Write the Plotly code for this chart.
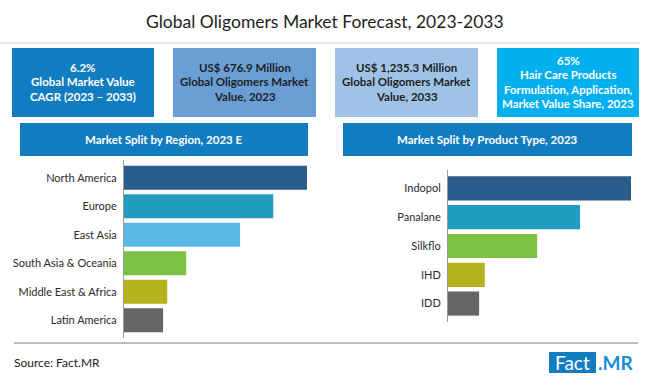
import plotly.graph_objects as go

W, H = 650, 377

title = "Global Oligomers Market Forecast, 2023-2033"

kpi_lines = [
    ["6.2%", "Global Market Value", "CAGR (2023 – 2033)"],
    ["US$ 676.9 Million", "Global Oligomers Market", "Value, 2023"],
    ["US$ 1,235.3 Million", "Global Oligomers Market", "Value, 2033"],
    ["65%", "Hair Care Products", "Formulation, Application,", "Market Value Share, 2023"],
]
kpi_fill = ["#117cbf", "#6a9fd5", "#9fc3e6", "#03b0ef"]
kpi_font = ["#ffffff", "#1e1e1e", "#1e1e1e", "#ffffff"]
kpi_size = [11.5, 11.5, 11.5, 11.5]

region_title = "Market Split by Region, 2023 E"
regions = ["North America", "Europe", "East Asia", "South Asia & Oceania",
           "Middle East & Africa", "Latin America"]
region_values = [30.9, 25.2, 19.6, 10.5, 7.3, 6.6]

product_title = "Market Split by Product Type, 2023"
products = ["Indopol", "Panalane", "Silkflo", "IHD", "IDD"]
product_values = [38.8, 28.0, 18.9, 7.8, 6.6]

region_colors = ["#2a5d8c", "#229dc0", "#5ab9e5", "#7cc142", "#b4b21e", "#666666"]
product_colors = ["#2a5d8c", "#229dc0", "#7cc142", "#b4b21e", "#666666"]

source = "Source: Fact.MR"

FONT = "Lato"

def px_x(x):
    return x / W

def px_y(y):
    return 1 - y / H

fig = go.Figure()

fig.add_trace(go.Bar(
    x=region_values, y=regions, orientation="h",
    marker=dict(color=region_colors, line=dict(width=0)),
    xaxis="x", yaxis="y", showlegend=False, hoverinfo="x+y",
))
fig.add_trace(go.Bar(
    x=product_values, y=products, orientation="h",
    marker=dict(color=product_colors, line=dict(width=0)),
    xaxis="x2", yaxis="y2", showlegend=False, hoverinfo="x+y",
))

shapes = []
annotations = []

# title
annotations.append(dict(
    x=0.5, y=px_y(22), xref="paper", yref="paper", text=title, showarrow=False,
    font=dict(family=FONT, size=17.5, color="#1e1e1e"), xanchor="center", yanchor="middle",
))
shapes.append(dict(type="line", xref="paper", yref="paper",
                   x0=px_x(0), x1=px_x(640), y0=px_y(43), y1=px_y(43),
                   line=dict(color="#d6d6d6", width=1)))

# KPI boxes
box_x = [(12, 154), (173, 316), (335, 478), (497, 639)]
LINE_H = 14.5
for (x0, x1), lines, fc, tc, fs in zip(box_x, kpi_lines, kpi_fill, kpi_font, kpi_size):
    shapes.append(dict(type="rect", xref="paper", yref="paper",
                       x0=px_x(x0), x1=px_x(x1), y0=px_y(117), y1=px_y(48),
                       fillcolor=fc, line=dict(width=0), layer="below"))
    n = len(lines)
    top = 82 - (n - 1) * LINE_H / 2
    for i, ln in enumerate(lines):
        annotations.append(dict(
            x=px_x((x0 + x1) / 2), y=px_y(top + i * LINE_H), xref="paper", yref="paper",
            text="<b>" + ln + "</b>", showarrow=False, align="center",
            font=dict(family=FONT, size=fs, color=tc),
            xanchor="center", yanchor="middle",
        ))

# section headers
for (x0, x1), txt in zip([(20, 308), (343, 632)], [region_title, product_title]):
    shapes.append(dict(type="rect", xref="paper", yref="paper",
                       x0=px_x(x0), x1=px_x(x1), y0=px_y(156), y1=px_y(123),
                       fillcolor="#117cbf", line=dict(width=0), layer="below"))
    annotations.append(dict(
        x=px_x((x0 + x1) / 2), y=px_y(139.5), xref="paper", yref="paper",
        text="<b>" + txt + "</b>", showarrow=False,
        font=dict(family=FONT, size=11.5, color="#ffffff"),
        xanchor="center", yanchor="middle",
    ))

# footer
shapes.append(dict(type="line", xref="paper", yref="paper",
                   x0=px_x(14), x1=px_x(638), y0=px_y(343), y1=px_y(343),
                   line=dict(color="#7a7a7a", width=1)))
annotations.append(dict(
    x=px_x(12), y=px_y(362), xref="paper", yref="paper", text=source,
    showarrow=False, font=dict(family=FONT, size=12, color="#222222"),
    xanchor="left", yanchor="middle",
))
shapes.append(dict(type="rect", xref="paper", yref="paper",
                   x0=px_x(549), x1=px_x(596), y0=px_y(373), y1=px_y(352),
                   fillcolor="#117cbf", line=dict(width=0), layer="below"))
annotations.append(dict(
    x=px_x(572.5), y=px_y(362.5), xref="paper", yref="paper", text="Fact",
    showarrow=False, font=dict(family=FONT, size=19, color="#ffffff"),
    xanchor="center", yanchor="middle",
))
annotations.append(dict(
    x=px_x(596), y=px_y(362.5), xref="paper", yref="paper", text="<b>.MR</b>",
    showarrow=False, font=dict(family=FONT, size=19, color="#1490d6"),
    xanchor="left", yanchor="middle",
))

axis_common = dict(showgrid=False, zeroline=False, showticklabels=False, showline=False,
                   fixedrange=True)

fig.update_layout(
    width=W, height=H,
    margin=dict(l=0, r=0, t=0, b=0),
    paper_bgcolor="#ffffff", plot_bgcolor="#ffffff",
    bargap=0.16,
    xaxis=dict(domain=[px_x(124), px_x(307)], range=[0, max(region_values)],
               anchor="y", **axis_common),
    yaxis=dict(domain=[px_y(338), px_y(160)], range=[len(regions) - 0.38, -0.62],
               anchor="x", showgrid=False, zeroline=False, showline=True,
               linecolor="#9a9a9a", linewidth=1, ticks="", ticklabelstandoff=4,
               fixedrange=True,
               tickfont=dict(family=FONT, size=11, color="#2a2a2a")),
    xaxis2=dict(domain=[px_x(448), px_x(631)], range=[0, max(product_values)],
                anchor="y2", **axis_common),
    yaxis2=dict(domain=[px_y(322), px_y(170)], range=[len(products) - 0.36, -0.64],
                anchor="x2", showgrid=False, zeroline=False, showline=True,
                linecolor="#9a9a9a", linewidth=1, ticks="", ticklabelstandoff=4,
                fixedrange=True,
                tickfont=dict(family=FONT, size=11, color="#2a2a2a")),
    shapes=shapes,
    annotations=annotations,
)

fig.write_html("out.html", config={"displayModeBar": False},
               post_script="document.body.style.margin='0';")
